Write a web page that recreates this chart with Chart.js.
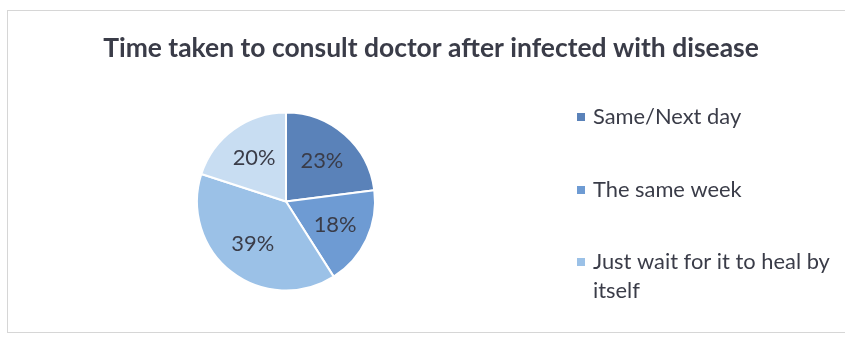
<!DOCTYPE html>
<html>
<head>
<meta charset="utf-8">
<script src="https://cdn.jsdelivr.net/npm/chart.js@4"></script>
<style>
html,body{margin:0;padding:0;background:#fff;}
#wrap{position:relative;width:845px;height:338px;}
</style>
</head>
<body>
<div id="wrap"><canvas id="c" width="845" height="338"></canvas></div>
<script>
const chartTitle = "Time taken to consult doctor after infected with disease";
const categories = ["Same/Next day", "The same week", "Just wait for it to heal by itself", "Other"];
const legendLines = [["Same/Next day"], ["The same week"], ["Just wait for it to heal by", "itself"]];
const percentValues = [23, 18, 39, 20];
const sliceColors = ["#5a82b9", "#6e9bd3", "#9bc1e7", "#c8ddf2"];

const FONT = "Lato, 'Open Sans', sans-serif";
const TEXT = "#3a3c48";

function fitFont(ctx, weight, size, text, target) {
  ctx.font = weight + size + "px " + FONT;
  const w = ctx.measureText(text).width;
  return size * target / w;
}

const overlay = {
  id: 'overlay',
  beforeDraw(chart) {
    const ctx = chart.ctx;
    ctx.save();
    ctx.fillStyle = '#fff';
    ctx.fillRect(0, 0, chart.width, chart.height);
    ctx.strokeStyle = '#d6d6d6';
    ctx.lineWidth = 1;
    ctx.strokeRect(7.5, 10.5, 860, 322);
    // title
    ctx.fillStyle = TEXT;
    const ts = fitFont(ctx, "bold ", 24, chartTitle, 656);
    ctx.font = "bold " + ts + "px " + FONT;
    ctx.textAlign = 'center';
    ctx.textBaseline = 'middle';
    ctx.fillText(chartTitle, 431, 48);
    ctx.restore();
  },
  afterDraw(chart) {
    const ctx = chart.ctx;
    const meta = chart.getDatasetMeta(0);
    ctx.save();
    const ls = fitFont(ctx, "", 20, legendLines[2][0], 237);
    ctx.fillStyle = TEXT;
    ctx.font = ls + "px " + FONT;
    ctx.textAlign = 'center';
    ctx.textBaseline = 'middle';
    meta.data.forEach((arc, i) => {
      const p = arc.getProps(['x','y','startAngle','endAngle','outerRadius'], true);
      const mid = (p.startAngle + p.endAngle) / 2;
      const r = p.outerRadius * 0.61;
      ctx.fillText(percentValues[i] + '%', p.x + Math.cos(mid) * r, p.y + Math.sin(mid) * r);
    });
    // legend
    const ys = [117, 190, 262];
    ctx.textAlign = 'left';
    legendLines.forEach((lines, i) => {
      ctx.fillStyle = sliceColors[i];
      ctx.fillRect(577, ys[i] - 4, 8, 8);
      ctx.fillStyle = TEXT;
      lines.forEach((t, j) => ctx.fillText(t, 593, ys[i] + j * 29));
    });
    ctx.restore();
  }
};

new Chart(document.getElementById('c'), {
  type: 'pie',
  data: {
    labels: categories,
    datasets: [{
      data: percentValues,
      backgroundColor: sliceColors,
      borderColor: '#ffffff',
      borderWidth: 2
    }]
  },
  options: {
    responsive: false,
    animation: false,
    layout: { padding: { left: 196, right: 469, top: 110, bottom: 45 } },
    plugins: {
      legend: { display: false },
      title: { display: false },
      tooltip: { enabled: false }
    }
  },
  plugins: [overlay]
});
</script>
</body>
</html>
